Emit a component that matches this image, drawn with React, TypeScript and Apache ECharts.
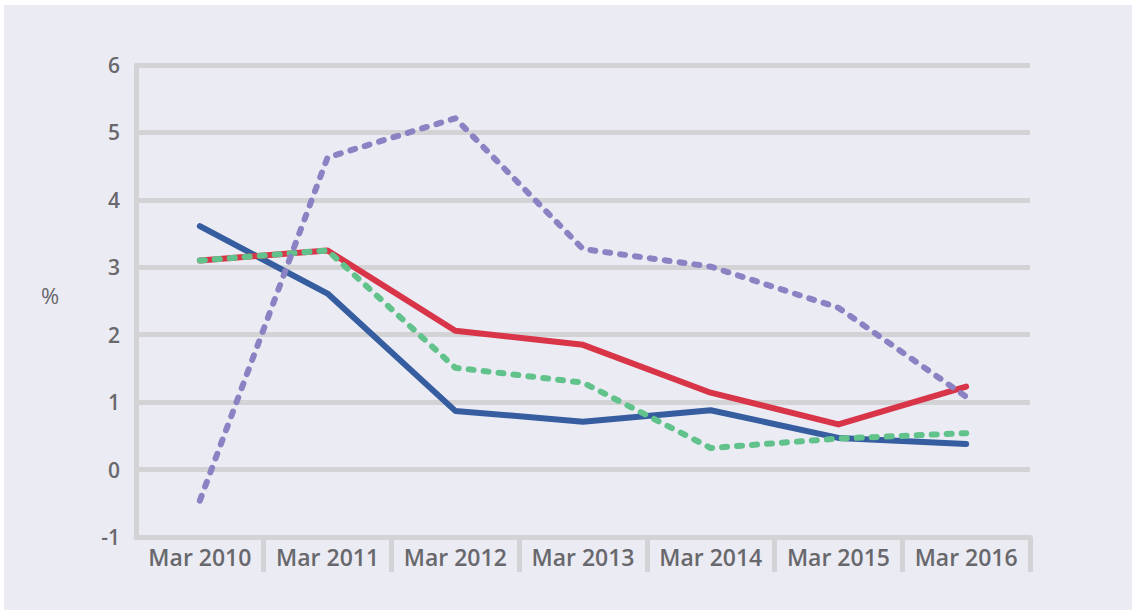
import React, { useEffect, useRef } from "react";
import * as echarts from "echarts";

const categories = ["Mar 2010", "Mar 2011", "Mar 2012", "Mar 2013", "Mar 2014", "Mar 2015", "Mar 2016"];
const blueSeries = [3.61, 2.61, 0.87, 0.71, 0.88, 0.47, 0.38];
const redSeries = [3.1, 3.25, 2.06, 1.85, 1.14, 0.67, 1.23];
const greenSeries = [3.1, 3.25, 1.51, 1.29, 0.32, 0.46, 0.54];
const purpleSeries = [-0.46, 4.63, 5.21, 3.27, 3.01, 2.4, 1.08];
const yMin = -1;
const yMax = 6;
const yInterval = 1;
const unitLabel = "%";

const GRID = "#d3d3d6";
const TEXT = "#68686c";
const FONT = "'Open Sans', 'Noto Sans', sans-serif";

export default function App() {
  const ref = useRef<HTMLDivElement>(null);
  useEffect(() => {
    if (!ref.current) return;
    const chart = echarts.init(ref.current, null, { renderer: "svg" });
    const lineSeries = (name: string, data: number[], color: string, dashed: boolean) => ({
      name,
      type: "line",
      data,
      symbol: "none",
      lineStyle: {
        color,
        width: 6,
        type: dashed ? [5, 10] : "solid",
        cap: "round",
        join: "round",
      },
    });
    chart.setOption({
      animation: false,
      backgroundColor: "transparent",
      grid: { left: 136, right: 102, top: 65, bottom: 73, containLabel: false },
      graphic: [
        {
          type: "text",
          left: 41,
          top: 284,
          style: { text: unitLabel, fill: TEXT, font: `500 22px ${FONT}` },
        },
      ],
      xAxis: {
        type: "category",
        data: categories,
        boundaryGap: true,
        position: "bottom",
        axisLine: { show: true, onZero: false, lineStyle: { color: GRID, width: 5 } },
        axisTick: {
          show: true,
          length: 35,
          interval: (i: number) => i !== 0,
          lineStyle: { color: GRID, width: 5 },
        },
        axisLabel: {
          color: TEXT,
          fontSize: 23,
          fontWeight: 600,
          fontFamily: FONT,
          margin: 8,
          interval: 0,
        },
        splitLine: { show: false },
      },
      yAxis: {
        type: "value",
        min: yMin,
        max: yMax,
        interval: yInterval,
        axisLine: { show: true, lineStyle: { color: GRID, width: 5 } },
        axisTick: { show: false },
        axisLabel: {
          color: TEXT,
          fontSize: 21,
          fontWeight: 600,
          fontFamily: FONT,
          margin: 16,
        },
        splitLine: { show: true, lineStyle: { color: GRID, width: 5 } },
      },
      series: [
        lineSeries("blue", blueSeries, "#355d9f", false),
        lineSeries("red", redSeries, "#d93549", false),
        lineSeries("green", greenSeries, "#62c28b", true),
        lineSeries("purple", purpleSeries, "#8a82c3", true),
      ],
    });
    return () => chart.dispose();
  }, []);
  return (
    <div style={{ position: "fixed", left: 0, top: 0, width: 1132, height: 610, background: "#ffffff" }}>
      <div style={{ position: "absolute", left: 4, top: 5, right: 0, bottom: 0, background: "#ebebf4" }} />
      <div ref={ref} style={{ position: "absolute", left: 0, top: 0, width: 1132, height: 610 }} />
    </div>
  );
}
